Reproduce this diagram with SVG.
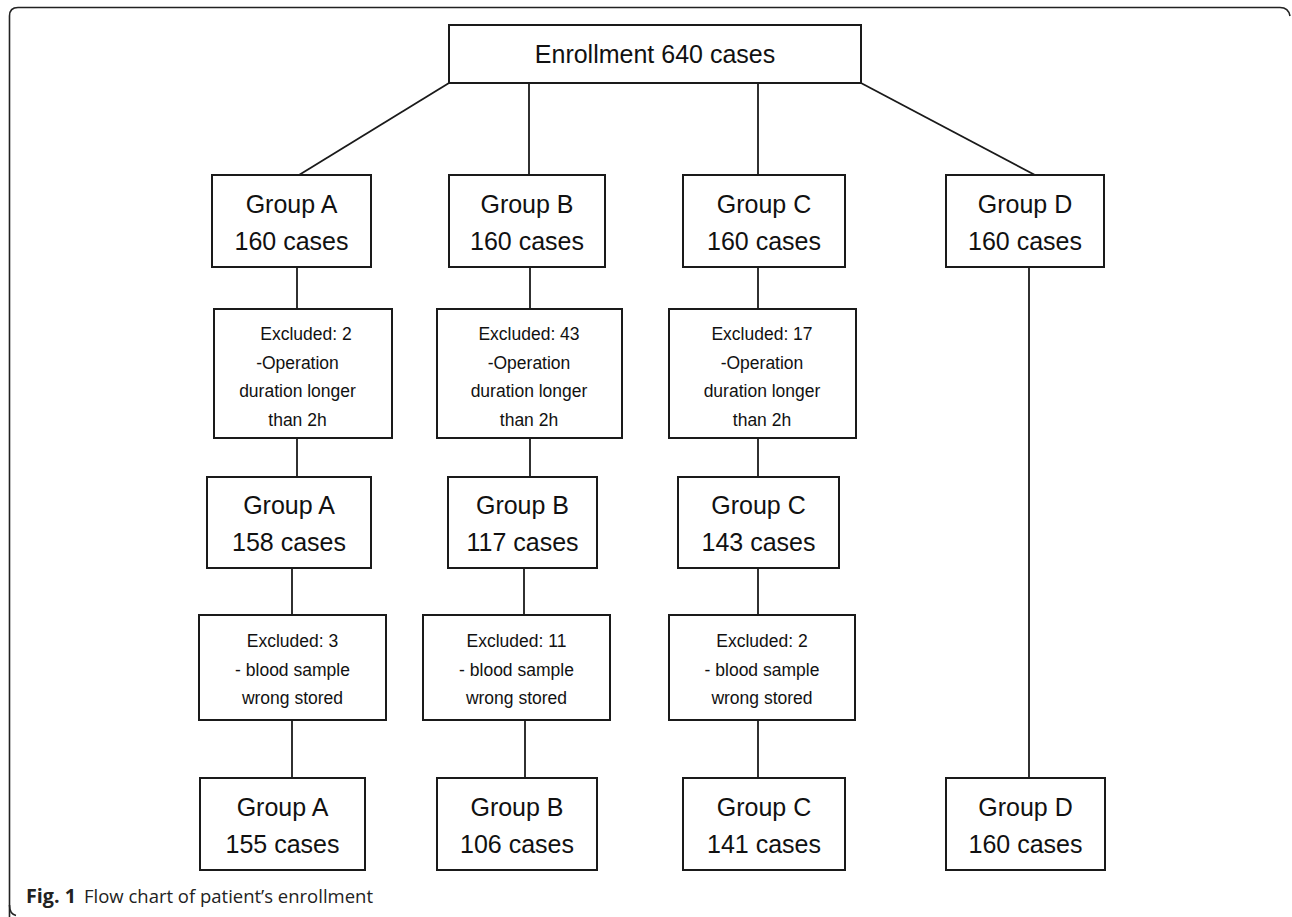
<svg xmlns="http://www.w3.org/2000/svg" width="1292" height="917" viewBox="0 0 1292 917">
<style>
.box{fill:#fff;stroke:#1a1a1a;stroke-width:2}
.ln{fill:none;stroke:#1a1a1a;stroke-width:1.8}
.g{font-family:"Liberation Sans",Arial,sans-serif;font-size:25px;fill:#111;text-anchor:middle}
.e{font-family:"Liberation Sans",Arial,sans-serif;font-size:17.5px;fill:#111;text-anchor:middle}
.cap{font-family:"Open Sans","Liberation Sans",sans-serif;font-size:19px;fill:#222}
</style>
<rect width="1292" height="917" fill="#fff"/>
<path d="M9.5,925 L9.5,16 Q9.5,7.5 18,7.5 L1280,7.5 Q1288.5,7.5 1290,16" fill="none" stroke="#222" stroke-width="1.6"/>
<path d="M9.5,905 Q9.5,914 16,915.5" fill="none" stroke="#222" stroke-width="1.6"/>
<g id="connectors">
<line class="ln" x1="449" y1="83" x2="299" y2="175"/>
<line class="ln" x1="529" y1="83" x2="529" y2="175"/>
<line class="ln" x1="758" y1="83" x2="758" y2="175"/>
<line class="ln" x1="861" y1="83" x2="1035" y2="175"/>
<line class="ln" x1="297" y1="267" x2="297" y2="309"/>
<line class="ln" x1="530" y1="267" x2="530" y2="309"/>
<line class="ln" x1="758" y1="267" x2="758" y2="309"/>
<line class="ln" x1="1029" y1="267" x2="1029" y2="778"/>
<line class="ln" x1="297" y1="438" x2="297" y2="477"/>
<line class="ln" x1="530" y1="438" x2="530" y2="477"/>
<line class="ln" x1="758" y1="438" x2="758" y2="477"/>
<line class="ln" x1="292" y1="568" x2="292" y2="615"/>
<line class="ln" x1="524" y1="568" x2="524" y2="615"/>
<line class="ln" x1="758" y1="568" x2="758" y2="615"/>
<line class="ln" x1="292" y1="720" x2="292" y2="778"/>
<line class="ln" x1="525" y1="720" x2="525" y2="778"/>
<line class="ln" x1="758" y1="720" x2="758" y2="778"/>
</g>
<g id="enroll"><rect class="box" x="449" y="25" width="412" height="58"/><text class="g" x="655" y="63">Enrollment 640 cases</text></g>
<g id="a1"><rect class="box" x="212" y="175" width="159" height="92"/><text class="g" x="291.5" y="213">Group A</text><text class="g" x="291.5" y="250">160 cases</text></g>
<g id="b1"><rect class="box" x="449" y="175" width="156" height="92"/><text class="g" x="527" y="213">Group B</text><text class="g" x="527" y="250">160 cases</text></g>
<g id="c1"><rect class="box" x="683" y="175" width="162" height="92"/><text class="g" x="764" y="213">Group C</text><text class="g" x="764" y="250">160 cases</text></g>
<g id="d1"><rect class="box" x="946" y="175" width="158" height="92"/><text class="g" x="1025" y="213">Group D</text><text class="g" x="1025" y="250">160 cases</text></g>
<g id="ea1"><rect class="box" x="214" y="309" width="178" height="129"/><text class="e" x="306" y="340">Excluded: 2</text><text class="e" x="297.5" y="368.5">-Operation</text><text class="e" x="297.5" y="397">duration longer</text><text class="e" x="297.5" y="425.5">than 2h</text></g>
<g id="eb1"><rect class="box" x="437" y="309" width="185" height="129"/><text class="e" x="529" y="340">Excluded: 43</text><text class="e" x="529" y="368.5">-Operation</text><text class="e" x="529" y="397">duration longer</text><text class="e" x="529" y="425.5">than 2h</text></g>
<g id="ec1"><rect class="box" x="669" y="309" width="187" height="129"/><text class="e" x="762" y="340">Excluded: 17</text><text class="e" x="762" y="368.5">-Operation</text><text class="e" x="762" y="397">duration longer</text><text class="e" x="762" y="425.5">than 2h</text></g>
<g id="a2"><rect class="box" x="207" y="477" width="164" height="91"/><text class="g" x="289" y="514">Group A</text><text class="g" x="289" y="551">158 cases</text></g>
<g id="b2"><rect class="box" x="448" y="477" width="149" height="91"/><text class="g" x="522.5" y="514">Group B</text><text class="g" x="522.5" y="551">117 cases</text></g>
<g id="c2"><rect class="box" x="678" y="477" width="161" height="91"/><text class="g" x="758.5" y="514">Group C</text><text class="g" x="758.5" y="551">143 cases</text></g>
<g id="ea2"><rect class="box" x="199" y="615" width="187" height="105"/><text class="e" x="292.5" y="647">Excluded: 3</text><text class="e" x="292.5" y="675.5">- blood sample</text><text class="e" x="292.5" y="704">wrong stored</text></g>
<g id="eb2"><rect class="box" x="423" y="615" width="187" height="105"/><text class="e" x="516.5" y="647">Excluded: 11</text><text class="e" x="516.5" y="675.5">- blood sample</text><text class="e" x="516.5" y="704">wrong stored</text></g>
<g id="ec2"><rect class="box" x="669" y="615" width="186" height="105"/><text class="e" x="762" y="647">Excluded: 2</text><text class="e" x="762" y="675.5">- blood sample</text><text class="e" x="762" y="704">wrong stored</text></g>
<g id="a3"><rect class="box" x="200" y="778" width="165" height="92"/><text class="g" x="282.5" y="816">Group A</text><text class="g" x="282.5" y="853">155 cases</text></g>
<g id="b3"><rect class="box" x="437" y="778" width="160" height="92"/><text class="g" x="517" y="816">Group B</text><text class="g" x="517" y="853">106 cases</text></g>
<g id="c3"><rect class="box" x="683" y="778" width="162" height="92"/><text class="g" x="764" y="816">Group C</text><text class="g" x="764" y="853">141 cases</text></g>
<g id="d3"><rect class="box" x="946" y="778" width="159" height="92"/><text class="g" x="1025.5" y="816">Group D</text><text class="g" x="1025.5" y="853">160 cases</text></g>
<g id="caption"><text class="cap" x="26" y="903"><tspan font-weight="bold" textLength="50" lengthAdjust="spacingAndGlyphs">Fig. 1</tspan><tspan x="84" textLength="289" lengthAdjust="spacingAndGlyphs">Flow chart of patient’s enrollment</tspan></text></g>
</svg>
